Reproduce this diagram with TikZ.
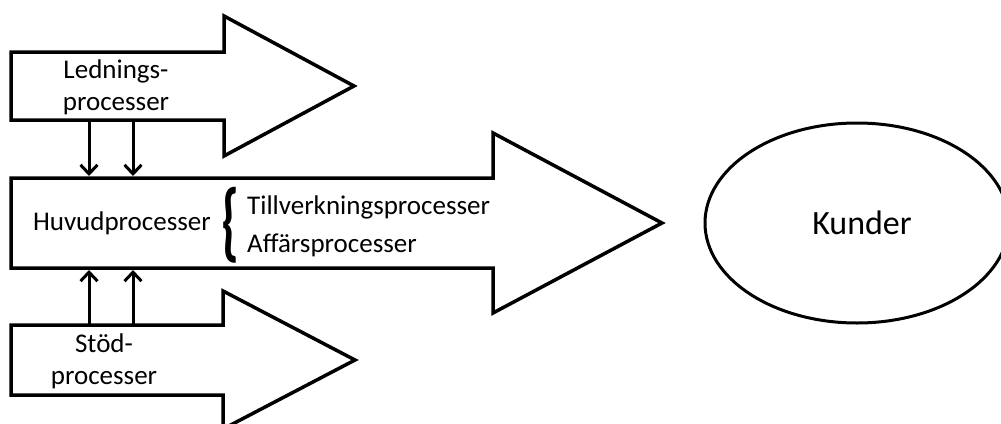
\documentclass[tikz,border=0pt]{standalone}
\usepackage{fontspec}
\setmainfont{Carlito}
\usetikzlibrary{arrows.meta,shapes.geometric}
\begin{document}
\begin{tikzpicture}[x=1pt,y=-1pt,
  block/.style={draw=black,line width=3.5pt,miter limit=10,fill=white},
  link/.style={draw=black,line width=3pt,-{Straight Barb[length=9pt,width=17pt]}},
  lbl/.style={font=\fontsize{27}{32}\selectfont,inner sep=0pt,align=center}]
\useasboundingbox (0,0) rectangle (1001,423);
\clip (0,0) rectangle (1001,423);
% block arrows
\draw[block] (11,52) -- (224,52) -- (224,16) -- (354,86) -- (224,156) -- (224,120) -- (11,120) -- cycle;
\draw[block] (11,178) -- (493,178) -- (493,133) -- (662,223) -- (493,313) -- (493,268) -- (11,268) -- cycle;
\draw[block] (11,325) -- (223,325) -- (223,291) -- (355,360) -- (223,429) -- (223,395) -- (11,395) -- cycle;
% connector ends
\coordinate (ls1) at (89,120);
\coordinate (ls2) at (133,120);
\coordinate (me1) at (89,176);
\coordinate (me2) at (133,176);
\coordinate (ss1) at (89,325);
\coordinate (ss2) at (133,325);
\coordinate (mb1) at (89,270);
\coordinate (mb2) at (133,270);
\draw[link] (ls1) -- (me1);
\draw[link] (ls2) -- (me2);
\draw[link] (ss1) -- (mb1);
\draw[link] (ss2) -- (mb2);
% labels
\node[lbl] (led) at (116,87) {Lednings-\\processer};
\node[lbl] (stod) at (104,361) {Stöd-\\processer};
\node[lbl,anchor=east] (huvud) at (211,223) {Huvudprocesser};
\node[lbl,anchor=west] (till) at (247,207) {Tillverkningsprocesser};
\node[lbl,anchor=west] (affar) at (247,245) {Affärsprocesser};
\node[inner sep=0pt] (brace) at (230,225) {\resizebox*{18pt}{76pt}{\bfseries\{}};
% customers
\node[draw=black,line width=3pt,ellipse,minimum width=304pt,minimum height=200pt,inner sep=0pt] (kund) at (857,223) {};
\node[font=\fontsize{34}{40}\selectfont,inner sep=0pt] (kundtxt) at (862,223) {Kunder};
\end{tikzpicture}
\end{document}
